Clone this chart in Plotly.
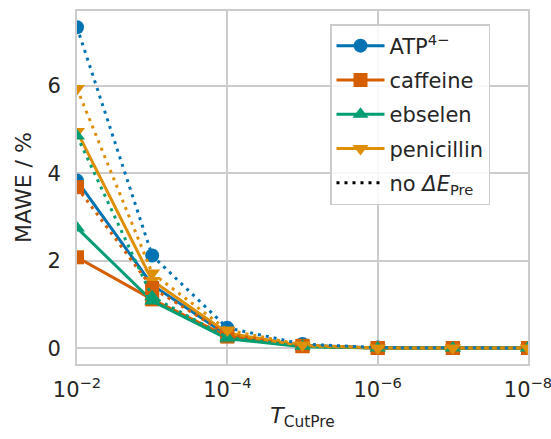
import plotly.graph_objects as go

x_vals = [1e-2, 1e-3, 1e-4, 1e-5, 1e-6, 1e-7, 1e-8]
atp = [3.83, 1.45, 0.30, 0.07, 0.01, 0.01, 0.01]
atp_noE = [7.33, 2.12, 0.47, 0.10, 0.02, 0.01, 0.01]
caffeine = [2.08, 1.12, 0.27, 0.05, 0.01, 0.01, 0.01]
caffeine_noE = [3.68, 1.38, 0.32, 0.06, 0.01, 0.01, 0.01]
ebselen = [2.75, 1.08, 0.22, 0.04, 0.01, 0.01, 0.01]
ebselen_noE = [4.85, 1.18, 0.25, 0.05, 0.01, 0.01, 0.01]
penicillin = [4.95, 1.55, 0.35, 0.06, 0.01, 0.01, 0.01]
penicillin_noE = [5.93, 1.72, 0.42, 0.08, 0.01, 0.01, 0.01]

names = ["ATP<sup>4−</sup>", "caffeine", "ebselen", "penicillin"]
solid = [atp, caffeine, ebselen, penicillin]
dotted = [atp_noE, caffeine_noE, ebselen_noE, penicillin_noE]
colors = ["#0173B2", "#D55E00", "#029E73", "#DE8F05"]
symbols = ["circle", "square", "triangle-up", "triangle-down"]
tick_vals = [1e-2, 1e-4, 1e-6, 1e-8]
tick_text = ["10<sup>−2</sup>", "10<sup>−4</sup>", "10<sup>−6</sup>", "10<sup>−8</sup>"]
y_ticks = [0, 2, 4, 6]

fig = go.Figure()
for i in range(4):
    fig.add_trace(go.Scatter(
        x=x_vals, y=solid[i], mode="lines+markers", name=names[i],
        legendgroup=f"g{i}",
        line=dict(color=colors[i], width=3),
        marker=dict(symbol=symbols[i], size=14, color=colors[i]),
    ))
for i in range(4):
    fig.add_trace(go.Scatter(
        x=x_vals, y=dotted[i], mode="lines+markers", showlegend=False,
        line=dict(color=colors[i], width=3, dash="3px,5px"),
        marker=dict(symbol=symbols[i], size=14, color=colors[i]),
    ))
fig.add_trace(go.Scatter(
    x=[None], y=[None], mode="lines", name="no <i>ΔE</i><sub>Pre</sub>",
    legendgroup="g9",
    line=dict(color="black", width=3, dash="3px,5px"),
))

font = "DejaVu Sans"
fig.update_layout(
    width=551, height=439,
    margin=dict(l=77, r=23, t=11, b=75, autoexpand=False),
    paper_bgcolor="white", plot_bgcolor="white",
    font=dict(family=font, size=21, color="#262626"),
    xaxis=dict(
        type="log", range=[-2, -8], tickvals=tick_vals, ticktext=tick_text,
        showgrid=True, gridcolor="#cccccc", gridwidth=1.5,
        showline=True, linecolor="#cccccc", linewidth=2, mirror=True,
        zeroline=False, ticks="outside", ticklen=6, tickcolor="rgba(0,0,0,0)",
        tickfont=dict(size=21), ticklabeloverflow="allow", automargin=False,
        title=dict(text="<i>T</i><sub>CutPre</sub>", font=dict(size=22), standoff=6),
    ),
    yaxis=dict(
        range=[-0.355, 7.70], tickvals=y_ticks,
        showgrid=True, gridcolor="#cccccc", gridwidth=1.5,
        showline=True, linecolor="#cccccc", linewidth=2, mirror=True,
        zeroline=False, ticks="outside", ticklen=10, tickcolor="rgba(0,0,0,0)",
        tickfont=dict(size=21), automargin=False,
        title=dict(text="MAWE / %", font=dict(size=22), standoff=10),
    ),
    legend=dict(
        x=(330 - 77) / 451, y=(364 - 24) / 353, xanchor="left", yanchor="top",
        bgcolor="rgba(255,255,255,0.85)", bordercolor="#cccccc", borderwidth=1.5,
        font=dict(size=21), tracegroupgap=4, itemwidth=48,
    ),
)

fig.write_html("out.html")
